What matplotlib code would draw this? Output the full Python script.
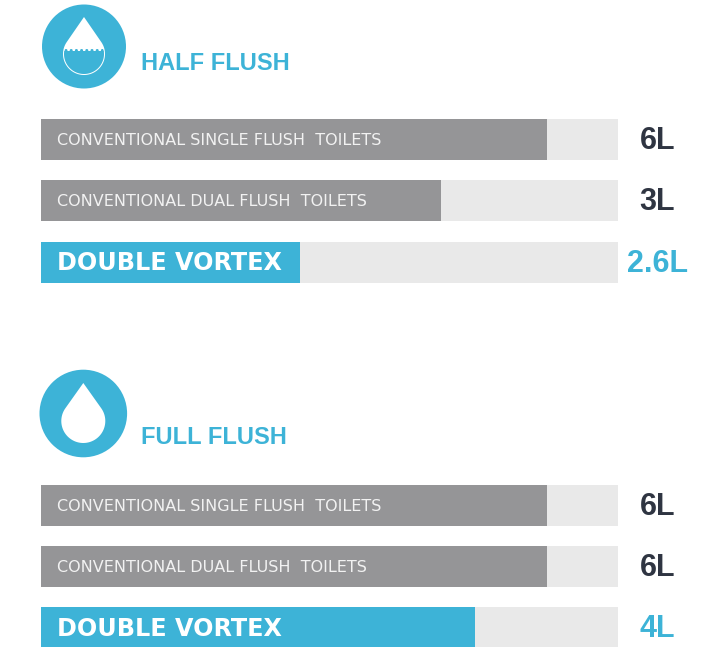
"""
Water used per flush: conventional toilets against Double Vortex
"""
import numpy as np
from matplotlib import pyplot as plt
from matplotlib.path import Path
from matplotlib.patches import Circle, PathPatch, Rectangle

# lengths in pixels, the bars are not to scale with the litres
labels = ['CONVENTIONAL SINGLE FLUSH  TOILETS', 'CONVENTIONAL DUAL FLUSH  TOILETS', 'DOUBLE VORTEX']
half_lengths = [506, 400, 259]
full_lengths = [506, 506, 434]
half_values = ['6L', '3L', '2.6L']
full_values = ['6L', '6L', '4L']
track_length = 577

BLUE = '#3db3d7'
GREY = '#959597'
TRACK = '#e9e9e9'
DARK = '#2f3542'
LABEL_FONT = 'DejaVu Sans'
HEAD_FONT = 'Liberation Sans'


def drop_path(cx, tip, cy, r):
    """Water drop outline: straight sides from the tip into a round belly, y axis pointing down"""
    d = cy - tip
    start = np.arcsin(r / d)
    angles = np.linspace(-start, np.pi + start, 80)
    verts = [(cx, tip)] + [(cx + r * np.cos(a), cy + r * np.sin(a)) for a in angles] + [(cx, tip)]
    codes = [Path.MOVETO] + [Path.LINETO] * (len(verts) - 2) + [Path.CLOSEPOLY]
    return Path(verts, codes)


def draw_group(ax, rows, lengths, values):
    """Draw one block of three bars with the litres on the right"""
    for i, row in enumerate(rows):
        last = i == len(rows) - 1
        ax.barh(row, track_length, height=41, left=41, color=TRACK, linewidth=0)
        ax.barh(row, lengths[i], height=41, left=41, color=BLUE if last else GREY, linewidth=0)
        if last:
            ax.text(57, row + 1, labels[i], color='white', fontsize=17.2, fontweight='bold',
                    family=LABEL_FONT, va='center', ha='left')
        else:
            ax.text(57, row + 1, labels[i], color='#f2f2f2', fontsize=11.5,
                    family=LABEL_FONT, va='center', ha='left')
        ax.text(657.5, row + 1.5, values[i], color=BLUE if last else DARK, fontsize=22,
                fontweight='bold', family=HEAD_FONT, va='center', ha='center')


fig = plt.figure(figsize=(7.24, 6.47), dpi=100)
ax = fig.add_axes([0, 0, 1, 1])
ax.set_xlim(0, 724)
ax.set_ylim(647, 0)
ax.axis('off')

draw_group(ax, [139.5, 200.5, 262.5], half_lengths, half_values)
draw_group(ax, [505.5, 566.5, 627.5], full_lengths, full_values)

ax.text(141, 63, 'HALF FLUSH', color=BLUE, fontsize=17.0, fontweight='bold',
        family=HEAD_FONT, va='center', ha='left')
ax.text(141, 437, 'FULL FLUSH', color=BLUE, fontsize=17.0, fontweight='bold',
        family=HEAD_FONT, va='center', ha='left')

# half flush icon: drop with the lower part filled
ax.add_patch(Circle((84, 46.5), 42, color=BLUE, linewidth=0))
ax.add_patch(PathPatch(drop_path(84, 17, 54, 21), facecolor='white', edgecolor='none'))
inner = drop_path(84, 17, 54, 20)
water = Rectangle((60, 50.5), 48, 30, facecolor=BLUE, edgecolor='none')
ax.add_patch(water)
water.set_clip_path(PathPatch(inner, transform=ax.transData))
for x in np.arange(66, 104, 5.2):
    wave = Circle((x, 50.5), 1.5, facecolor=BLUE, edgecolor='none')
    ax.add_patch(wave)
    wave.set_clip_path(PathPatch(inner, transform=ax.transData))

# full flush icon
ax.add_patch(Circle((83.3, 413.5), 43.8, color=BLUE, linewidth=0))
ax.add_patch(PathPatch(drop_path(83.3, 383, 421, 22), facecolor='white', edgecolor='none'))

plt.savefig('out.png', dpi=100)
plt.close()
